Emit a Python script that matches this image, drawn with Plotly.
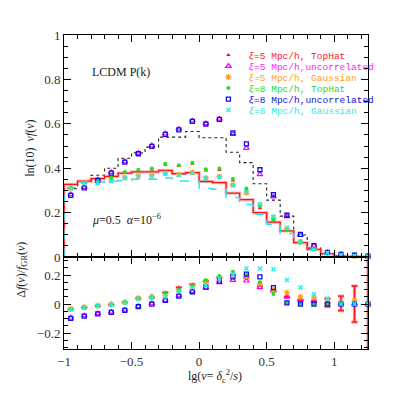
import numpy as np
import plotly.graph_objects as go
from plotly.subplots import make_subplots

# bin centres of lg(nu)
bin_centers = [-0.95, -0.85, -0.75, -0.65, -0.55, -0.45, -0.35, -0.25, -0.15, -0.05,
               0.05, 0.15, 0.25, 0.35, 0.45, 0.55, 0.65, 0.75, 0.85, 0.95, 1.05, 1.15, 1.25]

# upper panel: ln(10) nu f(nu)
f_xi5_tophat = [0.310, 0.330, 0.342, 0.354, 0.378, 0.388, 0.394, 0.415, 0.410, 0.420, 0.390, 0.392,
                0.345, 0.298, 0.220, 0.165, 0.120, 0.066, 0.036, 0.016, 0.007, 0.004, 0.002]
f_xi5_uncorr = [0.282, 0.315, 0.348, 0.382, 0.430, 0.468, 0.502, 0.556, 0.577, 0.614, 0.602, 0.622,
                0.553, 0.490, 0.372, 0.272, 0.183, 0.098, 0.050, 0.020, 0.011, 0.007, 0.004]
f_xi5_gauss = [0.310, 0.332, 0.336, 0.345, 0.358, 0.366, 0.368, 0.378, 0.372, 0.382, 0.356, 0.362,
               0.325, 0.288, 0.233, 0.178, 0.128, 0.068, 0.036, 0.018, 0.008, 0.004, 0.002]
f_xi8_tophat = [0.313, 0.333, 0.345, 0.357, 0.383, 0.393, 0.399, 0.420, 0.413, 0.425, 0.395, 0.399,
                0.353, 0.308, 0.229, 0.169, 0.121, 0.066, 0.036, 0.016, 0.007, 0.004, 0.002]
f_xi8_uncorr = [0.278, 0.311, 0.345, 0.378, 0.427, 0.465, 0.498, 0.552, 0.573, 0.611, 0.599, 0.620,
                0.559, 0.510, 0.393, 0.281, 0.188, 0.102, 0.051, 0.021, 0.012, 0.008, 0.004]
f_xi8_gauss = [0.310, 0.330, 0.333, 0.341, 0.356, 0.363, 0.363, 0.375, 0.368, 0.378, 0.353, 0.360,
               0.323, 0.293, 0.238, 0.181, 0.131, 0.070, 0.036, 0.018, 0.008, 0.004, 0.002]

# histogram curves (one value per bin of width 0.1 starting at -1)
hist_edges_start = -1.0
hist_width = 0.1
hist_red = [0.327, 0.342, 0.353, 0.363, 0.378, 0.383, 0.383, 0.390, 0.375, 0.380, 0.340, 0.335,
            0.288, 0.258, 0.200, 0.157, 0.118, 0.065, 0.034, 0.014, 0.004, 0.002, 0.001]
hist_cyan = [0.313, 0.338, 0.338, 0.341, 0.345, 0.350, 0.350, 0.356, 0.342, 0.342, 0.308, 0.305,
             0.268, 0.236, 0.193, 0.148, 0.106, 0.061, 0.031, 0.013, 0.004, 0.002, 0.001]
hist_black = [0.308, 0.338, 0.368, 0.400, 0.445, 0.469, 0.495, 0.540, 0.540, 0.565, 0.537, 0.537,
              0.472, 0.425, 0.330, 0.256, 0.184, 0.099, 0.040, 0.015, 0.004, 0.002, 0.001]

# lower panel: Delta f / f_GR
r_xi5_tophat = [-0.035, -0.024, -0.012, -0.005, 0.012, 0.040, 0.048, 0.080, 0.115, 0.136, 0.160, 0.185,
                0.200, 0.181, 0.126, 0.090, 0.050, 0.030, 0.020, 0.010, 0.005, 0.0, 0.0]
r_xi5_uncorr = [-0.095, -0.080, -0.064, -0.054, -0.040, -0.015, 0.004, 0.028, 0.058, 0.088, 0.112, 0.150,
                0.166, 0.161, 0.115, 0.095, 0.050, 0.028, 0.021, 0.010, 0.0, 0.0, 0.0]
r_xi5_gauss = [-0.033, -0.020, -0.010, 0.000, 0.014, 0.042, 0.052, 0.060, 0.090, 0.120, 0.150, 0.180,
               0.200, 0.190, 0.140, 0.100, 0.080, 0.050, 0.044, 0.030, 0.010, 0.023, 0.0]
r_xi8_tophat = [-0.037, -0.025, -0.014, -0.007, 0.011, 0.039, 0.046, 0.078, 0.103, 0.126, 0.166, 0.193,
                0.223, 0.200, 0.150, 0.069, 0.009, 0.0, 0.0, 0.0, 0.0, 0.0, 0.0]
r_xi8_uncorr = [-0.099, -0.083, -0.067, -0.057, -0.044, -0.018, 0.000, 0.025, 0.055, 0.085, 0.117, 0.159,
                0.188, 0.207, 0.188, 0.113, 0.009, 0.0, 0.0, 0.0, 0.0, 0.0, 0.0]
r_xi8_gauss = [-0.035, -0.025, -0.015, -0.005, 0.010, 0.035, 0.040, 0.050, 0.085, 0.113, 0.131, 0.177,
               0.205, 0.246, 0.246, 0.241, 0.166, 0.115, 0.067, 0.039, 0.0, 0.0, 0.0]
r_xi5_tophat_err = [None] * 19 + [0.028, 0.05, 0.125, 1.0]

series = [
    ("<i>ξ</i>=5 Mpc/h, TopHat", f_xi5_tophat, r_xi5_tophat, "#ff2020",
     dict(symbol="triangle-up", size=4, color="#ff1010")),
    ("<i>ξ</i>=5 Mpc/h,uncorrelated", f_xi5_uncorr, r_xi5_uncorr, "#ff20ff",
     dict(symbol="triangle-up-open", size=5, color="#ff00ff", line=dict(width=1.2))),
    ("<i>ξ</i>=5 Mpc/h, Gaussian", f_xi5_gauss, r_xi5_gauss, "#ffa020",
     dict(symbol="asterisk-open", size=5, color="#ffa020", line=dict(width=1.2, color="#ffa020"))),
    ("<i>ξ</i>=8 Mpc/h, TopHat", f_xi8_tophat, r_xi8_tophat, "#20e020",
     dict(symbol="circle", size=4, color="#20e020")),
    ("<i>ξ</i>=8 Mpc/h,uncorrelated", f_xi8_uncorr, r_xi8_uncorr, "#1010e0",
     dict(symbol="square-open", size=4, color="#1010ee", line=dict(width=1.3))),
    ("<i>ξ</i>=8 Mpc/h, Gaussian", f_xi8_gauss, r_xi8_gauss, "#20f0f0",
     dict(symbol="x-thin-open", size=4, color="#20f0f0", line=dict(width=1.5, color="#20f0f0"))),
]

fig = make_subplots(rows=2, cols=1, shared_xaxes=True, vertical_spacing=0,
                    row_heights=[222 / 314, 92 / 314])


def step_xy(values):
    edges = [hist_edges_start + i * hist_width for i in range(len(values) + 1)]
    return [edges[0]] + edges, [0] + list(values) + [values[-1]]


xs, ys = step_xy(hist_black)
fig.add_trace(go.Scatter(x=xs, y=ys, mode="lines", line_shape="hv", showlegend=False,
                         line=dict(color="#222", width=1.1, dash="dot")), row=1, col=1)
xs, ys = step_xy(hist_red)
fig.add_trace(go.Scatter(x=xs, y=ys, mode="lines", line_shape="hv", showlegend=False,
                         line=dict(color="rgba(240,120,120,0.45)", width=3.2)), row=1, col=1)
fig.add_trace(go.Scatter(x=xs, y=ys, mode="lines", line_shape="hv", showlegend=False,
                         line=dict(color="#ff1010", width=1.3)), row=1, col=1)
xs, ys = step_xy(hist_cyan)
fig.add_trace(go.Scatter(x=xs, y=ys, mode="lines", line_shape="hv", showlegend=False,
                         line=dict(color="#30e0f0", width=1.5, dash="dash")), row=1, col=1)

# error bars of the xi=5 top-hat ratio
fig.add_trace(go.Scatter(x=bin_centers, y=r_xi5_tophat, mode="markers", showlegend=False,
                         marker=dict(size=1, color="rgba(0,0,0,0)"),
                         error_y=dict(type="data", array=r_xi5_tophat_err, visible=True,
                                      color="rgba(240,120,120,0.7)", thickness=3.2, width=3)),
              row=2, col=1)
fig.add_trace(go.Scatter(x=bin_centers, y=r_xi5_tophat, mode="markers", showlegend=False,
                         marker=dict(size=1, color="rgba(0,0,0,0)"),
                         error_y=dict(type="data", array=r_xi5_tophat_err, visible=True,
                                      color="#ff1010", thickness=1.3, width=3)),
              row=2, col=1)

legend_rows_y = [0.936, 0.901, 0.866, 0.831, 0.796, 0.761]
for i, (name, fvals, rvals, tcol, mk) in enumerate(series):
    lg = "legend" if i == 0 else f"legend{i + 1}"
    fig.add_trace(go.Scatter(x=bin_centers, y=fvals, mode="markers", name=name, marker=mk,
                             legend=lg, cliponaxis=False), row=1, col=1)
    fig.add_trace(go.Scatter(x=bin_centers, y=rvals, mode="markers", marker=mk, showlegend=False,
                             cliponaxis=False), row=2, col=1)
    fig.update_layout({lg: dict(x=0.475, y=legend_rows_y[i], xanchor="left", yanchor="middle",
                                bgcolor="rgba(0,0,0,0)", borderwidth=0, itemwidth=30,
                                font=dict(family="Liberation Mono", size=9.5, color=tcol))})

axis_common = dict(showline=True, linecolor="black", linewidth=1, mirror="ticks", ticks="inside",
                   ticklen=7, tickcolor="black", showgrid=False, zeroline=False,
                   tickfont=dict(family="Liberation Serif", size=13, color="#333"))
fig.update_xaxes(range=[-1, 1.25], tickvals=[-1, -0.5, 0, 0.5, 1],
                 minor=dict(dtick=0.1, tick0=0, ticks="inside", ticklen=4, tickcolor="black"),
                 **axis_common)
fig.update_xaxes(showticklabels=False, row=1, col=1)
fig.update_yaxes(range=[0, 1], tickvals=[0, 0.2, 0.4, 0.6, 0.8, 1],
                 minor=dict(dtick=0.05, tick0=0, ticks="inside", ticklen=4, tickcolor="black"),
                 row=1, col=1, **axis_common)
fig.update_yaxes(range=[-0.31, 0.325], tickvals=[-0.2, 0, 0.2],
                 minor=dict(dtick=0.05, tick0=0, ticks="inside", ticklen=4, tickcolor="black"),
                 row=2, col=1, **axis_common)

serif = dict(family="Liberation Serif", size=12, color="#222")
fig.add_annotation(x=-0.81, y=0.833, xref="x", yref="y", text="LCDM P(k)", showarrow=False,
                   xanchor="left", font=serif)
fig.add_annotation(x=-0.81, y=0.171, xref="x", yref="y",
                   text="<i>μ</i>=0.5  <i>α</i>=10<sup>−6</sup>", showarrow=False,
                   xanchor="left", font=serif)
fig.add_annotation(x=-0.142, y=0.64, xref="paper", yref="paper", textangle=-90,
                   text="ln(10)  <i>νf</i>(<i>ν</i>)", showarrow=False, font=serif)
fig.add_annotation(x=-0.172, y=0.156, xref="paper", yref="paper", textangle=-90,
                   text="Δ<i>f</i>(<i>ν</i>)/<i>f</i><sub>GR</sub>(<i>ν</i>)", showarrow=False,
                   font=serif)
fig.add_annotation(x=0.497, y=-0.122, xref="paper", yref="paper",
                   text="lg(<i>ν</i>= <i>δ</i><sub>c</sub><sup>2</sup>/<i>s</i>)", showarrow=False,
                   font=serif)

# the page body adds an 8px offset, so the figure is drawn 16px smaller
fig.update_layout(width=399, height=399, margin=dict(l=56, r=39, t=27, b=58),
                  plot_bgcolor="white", paper_bgcolor="white")
fig.write_html("out.html")
